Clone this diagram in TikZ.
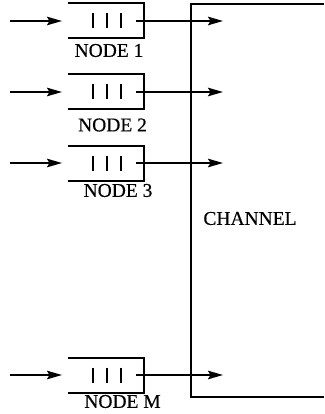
\documentclass[tikz,border=0pt]{standalone}
\usepackage{fontspec}
\newfontfamily\lblfont[FakeBold=0.4]{Liberation Serif}
\usetikzlibrary{arrows.meta}
\tikzset{
  wire/.style={line width=2pt, -{Stealth[length=15pt,width=8.5pt,inset=2.5pt]}},
  queuebox/.style={minimum width=76pt, minimum height=35pt, inner sep=0pt, outer sep=0pt},
  qline/.style={line width=2pt},
  qbar/.style={line width=2.6pt},
  lbl/.style={font=\lblfont\fontsize{19.5}{19.5}\selectfont, inner sep=0pt},
}
\begin{document}
\begin{tikzpicture}[x=1pt,y=-1pt]
\useasboundingbox (0,0) rectangle (324,414);
% the shared channel, open on the right
\coordinate (chtr) at (324,4);
\coordinate (chtl) at (191,4);
\coordinate (chbl) at (191,397);
\coordinate (chbr) at (324,397);
\draw[qline] (chtr) -- (chtl) -- (chbl) -- (chbr);
\node[lbl] (chlabel) at (250,218.5) {CHANNEL};
% one queue per node: open-left buffer with three packets
\foreach \n/\y/\lx/\ly/\t in {1/21/109/50.5/NODE 1, 2/92/112.5/125/NODE 2, 3/163/118/190.5/NODE 3, M/375/122.5/401.5/NODE M}{
  \node[queuebox] (q\n) at (106,\y) {};
  \draw[qline] (q\n.north west) -- (q\n.north east) -- (q\n.south east) -- (q\n.south west);
  \foreach \bx in {93,107,121}{
    \draw[qbar] (\bx,\y-7.5) -- (\bx,\y+7.5);
  }
  \coordinate (in\n) at (10,\y);
  \coordinate (out\n) at (136,\y);
  \coordinate (tip\n) at (223,\y);
  \draw[wire, shorten >=6pt] (in\n) -- (q\n.west);
  \draw[wire] (out\n) -- (tip\n);
  \node[lbl] (lab\n) at (\lx,\ly) {\t};
}
\end{tikzpicture}
\end{document}
